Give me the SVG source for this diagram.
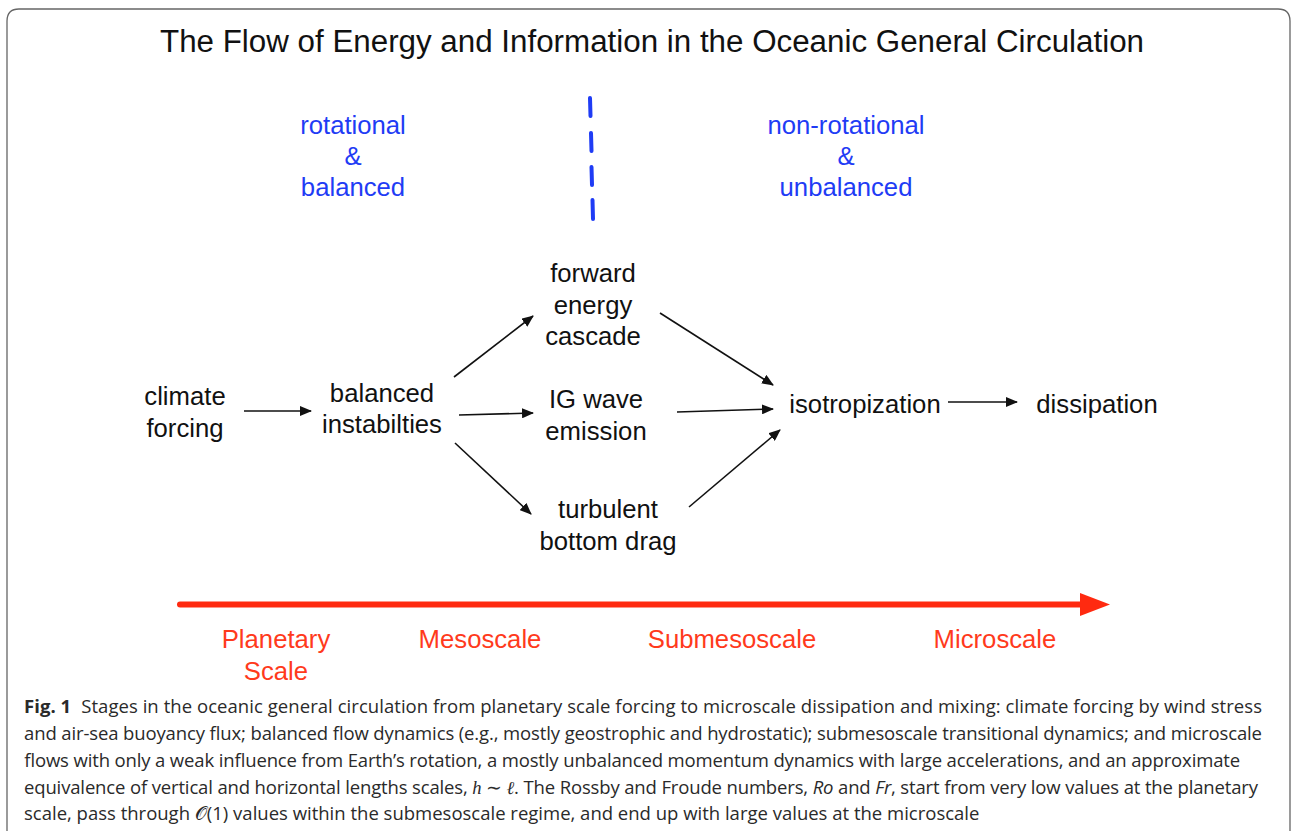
<svg xmlns="http://www.w3.org/2000/svg" width="1291" height="831" viewBox="0 0 1291 831">
<defs>
<style>
.t{font-family:"Liberation Sans",Arial,sans-serif;font-size:25.7px;fill:#111;text-anchor:middle}
.b{font-family:"Liberation Sans",Arial,sans-serif;font-size:25.7px;fill:#1f3cf5;text-anchor:middle}
.r{font-family:"Liberation Sans",Arial,sans-serif;font-size:25.7px;fill:#ff3a1c;text-anchor:middle}
.c{font-family:"Open Sans","Noto Sans",sans-serif;font-size:18.5px;fill:#2a2a2a}
.a{stroke:#111;stroke-width:1.6;fill:none;marker-end:url(#ah)}
</style>
<marker id="ah" viewBox="0 0 12 10" refX="11" refY="5" markerWidth="12" markerHeight="10" markerUnits="userSpaceOnUse" orient="auto">
<path d="M0,0 L12,5 L0,10 Z" fill="#111"/>
</marker>
</defs>
<rect width="1291" height="831" fill="#fff"/>
<path d="M7,831 L7,21 Q7,9 19,9 L1278,9 Q1290,9 1290,21 L1290,831" fill="none" stroke="#666" stroke-width="1.3"/>
<text x="652" y="52" textLength="984" lengthAdjust="spacingAndGlyphs" style="font-family:'Liberation Sans',Arial,sans-serif;font-size:31px;fill:#111;text-anchor:middle">The Flow of Energy and Information in the Oceanic General Circulation</text>

<g id="rotational">
<text class="b" x="353" y="134">rotational</text>
<text class="b" x="353" y="165">&amp;</text>
<text class="b" x="353" y="196">balanced</text>
</g>
<g id="nonrotational">
<text class="b" x="846" y="134">non-rotational</text>
<text class="b" x="846" y="165">&amp;</text>
<text class="b" x="846" y="196">unbalanced</text>
</g>
<g id="divider">
<path d="M590,98 L590.5,116 M591,133 L591.5,151 M591.5,167 L592,185 M592.5,200 L593,219" stroke="#1f3cf5" stroke-width="4" stroke-linecap="round" fill="none"/>
</g>

<g id="climate"><text class="t" x="185" y="405">climate</text><text class="t" x="185" y="437">forcing</text></g>
<g id="balanced"><text class="t" x="382" y="402">balanced</text><text class="t" x="382" y="433">instabilties</text></g>
<g id="forward"><text class="t" x="593" y="282">forward</text><text class="t" x="593" y="314">energy</text><text class="t" x="593" y="345">cascade</text></g>
<g id="igwave"><text class="t" x="596" y="408">IG wave</text><text class="t" x="596" y="440">emission</text></g>
<g id="turbulent"><text class="t" x="608" y="518">turbulent</text><text class="t" x="608" y="550">bottom drag</text></g>
<g id="isotropization"><text class="t" x="865" y="413">isotropization</text></g>
<g id="dissipation"><text class="t" x="1097" y="413">dissipation</text></g>

<g id="connectors">
<line class="a" x1="244" y1="411" x2="311" y2="411"/>
<line class="a" x1="459" y1="415" x2="533" y2="413"/>
<line class="a" x1="454" y1="377" x2="533" y2="316"/>
<line class="a" x1="455" y1="443" x2="531" y2="514"/>
<line class="a" x1="660" y1="313" x2="773" y2="385"/>
<line class="a" x1="677" y1="412" x2="773" y2="409"/>
<line class="a" x1="689" y1="507" x2="780" y2="430"/>
<line class="a" x1="948" y1="402" x2="1017" y2="402"/>
</g>

<g id="scale-arrow">
<line x1="180" y1="604.5" x2="1084" y2="604.5" stroke="#ff2a10" stroke-width="6" stroke-linecap="round"/>
<path d="M1080,593 L1110,604.5 L1080,616 Z" fill="#ff2a10"/>
</g>
<g id="scales">
<text class="r" x="276" y="648">Planetary</text>
<text class="r" x="276" y="680">Scale</text>
<text class="r" x="480" y="648">Mesoscale</text>
<text class="r" x="732" y="648">Submesoscale</text>
<text class="r" x="995" y="648">Microscale</text>
</g>

<g id="caption">
<text class="c" x="24" y="713" textLength="1238" lengthAdjust="spacing"><tspan font-weight="bold">Fig. 1</tspan><tspan dx="10">Stages in the oceanic general circulation from planetary scale forcing to microscale dissipation and mixing: climate forcing by wind stress</tspan></text>
<text class="c" x="24" y="740" textLength="1238" lengthAdjust="spacing">and air-sea buoyancy flux; balanced flow dynamics (e.g., mostly geostrophic and hydrostatic); submesoscale transitional dynamics; and microscale</text>
<text class="c" x="24" y="767" textLength="1216" lengthAdjust="spacing">flows with only a weak influence from Earth’s rotation, a mostly unbalanced momentum dynamics with large accelerations, and an approximate</text>
<text class="c" x="24" y="794" textLength="1234" lengthAdjust="spacing">equivalence of vertical and horizontal lengths scales, <tspan font-style="italic" font-family="'Liberation Serif',serif">h</tspan> ∼ <tspan font-style="italic" font-family="'Liberation Serif',serif">ℓ</tspan>. The Rossby and Froude numbers, <tspan font-style="italic">Ro</tspan> and <tspan font-style="italic">Fr</tspan>, start from very low values at the planetary</text>
<text class="c" x="24" y="820">scale, pass through <tspan font-family="'DejaVu Sans','Noto Sans',serif">𝒪</tspan>(1) values within the submesoscale regime, and end up with large values at the microscale</text>
</g>
</svg>
